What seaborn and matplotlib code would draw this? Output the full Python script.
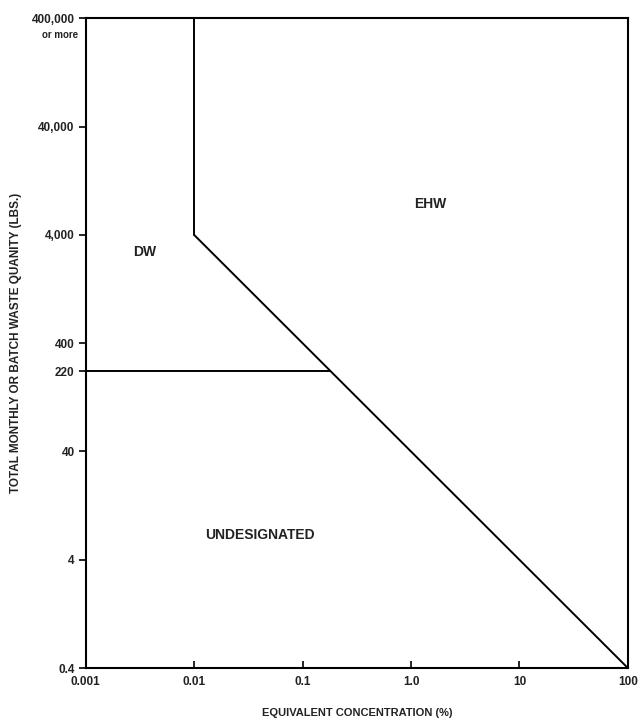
import numpy as np
import pandas as pd
import seaborn as sns
import matplotlib.pyplot as plt
from matplotlib.ticker import NullLocator

sns.set_theme(style="white")
plt.rcParams['font.family'] = ['Liberation Sans', 'DejaVu Sans']

# boundary segments (log-log)
vert_x = [0.01, 0.01]
vert_y = [400000, 4000]
diag_x = [0.01, 100]
diag_y = [4000, 0.4]
horiz_x = [0.001, 0.18]
horiz_y = [220, 220]

x_ticks = [0.001, 0.01, 0.1, 1, 10, 100]
x_labels = ["0.001", "0.01", "0.1", "1.0", "10", "100"]
y_ticks = [0.4, 4, 40, 220, 400, 4000, 40000, 400000]
y_labels = ["0.4", "4", "40", "220", "400", "4,000", "40,000", "400,000"]

regions = ["DW", "EHW", "UNDESIGNATED"]
region_x = [0.0035, 1.5, 0.04]
region_y = [2800, 7800, 6.8]

fig = plt.figure(figsize=(6.4, 7.25), dpi=100)
ax = fig.add_axes([0.134, 0.0786, 0.847, 0.896])

for xs, ys in [(vert_x, vert_y), (diag_x, diag_y), (horiz_x, horiz_y)]:
    seg = pd.DataFrame({"x": xs, "y": ys})
    sns.lineplot(data=seg, x="x", y="y", sort=False, estimator=None,
                 color="black", linewidth=1.4, ax=ax)

ax.set_xscale("log")
ax.set_yscale("log")
ax.set_xlim(0.001, 100)
ax.set_ylim(0.4, 400000)
ax.set_xticks(x_ticks)
ax.set_xticklabels(x_labels, fontsize=8.5, fontweight="bold")
ax.set_yticks(y_ticks)
ax.set_yticklabels(y_labels, fontsize=8.5, fontweight="bold")
ax.xaxis.set_minor_locator(NullLocator())
ax.yaxis.set_minor_locator(NullLocator())
ax.tick_params(axis="x", bottom=True, direction="in", length=5, width=1.2, pad=6,
               color="black")
ax.tick_params(axis="y", left=True, direction="out", length=5, width=1.2, pad=3,
               color="black")
ax.tick_params(axis="both", labelcolor="#222222")

for s in ax.spines.values():
    s.set_color("black")
    s.set_linewidth(1.5)

ax.text(-0.014, 0.982, "or more", transform=ax.transAxes, ha="right", va="top",
        fontsize=7, fontweight="bold", color="#222222")

for lab, xv, yv in zip(regions, region_x, region_y):
    ax.text(xv, yv, lab, ha="center", va="center", fontsize=10, fontweight="bold",
            color="#222222")

ax.set_xlabel("EQUIVALENT CONCENTRATION (%)", fontsize=8, fontweight="bold", labelpad=14,
              color="#222222")
ax.set_ylabel("TOTAL MONTHLY OR BATCH WASTE QUANITY (LBS.)", fontsize=8.5, fontweight="bold",
              labelpad=20, color="#222222")
ax.yaxis.set_label_coords(-0.118, 0.5)

fig.savefig("out.png", dpi=100)
